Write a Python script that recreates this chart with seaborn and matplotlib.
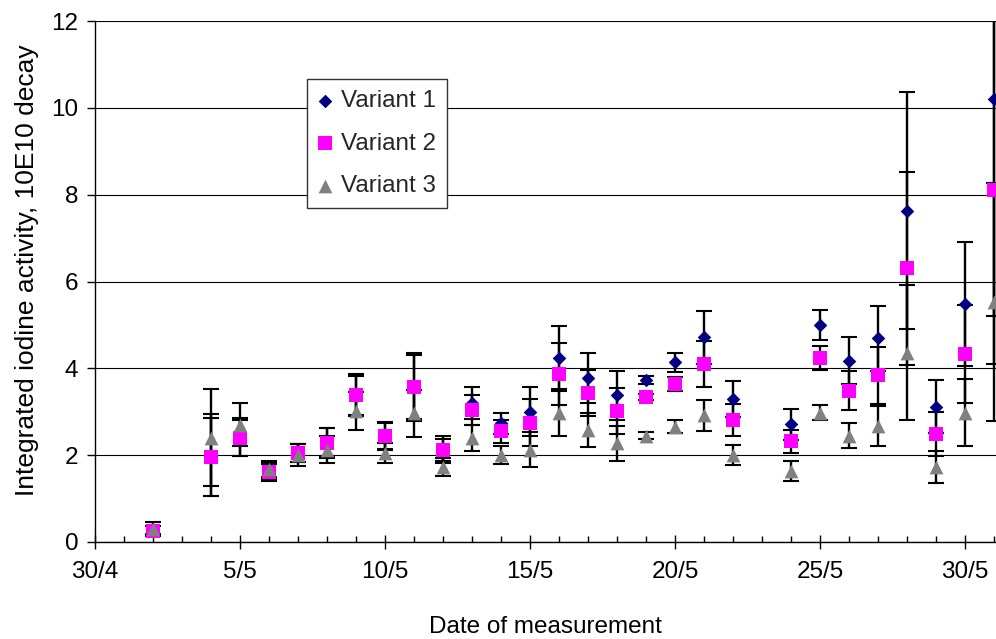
import matplotlib
matplotlib.use("Agg")
import matplotlib.pyplot as plt
import seaborn as sns
import pandas as pd
from matplotlib.ticker import MultipleLocator

# Day offsets counted from 30 April
days = [2, 4, 5, 6, 7, 8, 9, 10, 11, 12, 13, 14, 15, 16, 17, 18, 19, 20,
        21, 22, 24, 25, 26, 27, 28, 29, 30, 31]

v1 = [0.28, 2.00, 2.42, 1.62, 2.05, 2.30, 3.38, 2.45, 3.57, 2.12, 3.20, 2.73, 3.00, 4.23,
      3.78, 3.38, 3.73, 4.14, 4.72, 3.29, 2.71, 5.00, 4.18, 4.69, 7.63, 3.12, 5.49, 10.21]
e1 = [0.10, 0.95, 0.43, 0.22, 0.20, 0.33, 0.45, 0.30, 0.73, 0.26, 0.37, 0.25, 0.57, 0.75,
      0.58, 0.57, 0.10, 0.22, 0.61, 0.41, 0.35, 0.35, 0.55, 0.75, 2.73, 0.62, 1.43, 5.00]

v2 = [0.26, 1.96, 2.40, 1.62, 2.05, 2.28, 3.38, 2.44, 3.57, 2.13, 3.04, 2.55, 2.75, 3.87,
      3.43, 3.02, 3.34, 3.64, 4.10, 2.81, 2.32, 4.24, 3.48, 3.84, 6.30, 2.49, 4.33, 8.10]
e2 = [0.12, 0.90, 0.42, 0.17, 0.20, 0.35, 0.48, 0.32, 0.79, 0.32, 0.34, 0.27, 0.54, 0.71,
      0.53, 0.53, 0.06, 0.16, 0.53, 0.36, 0.26, 0.27, 0.45, 0.65, 2.23, 0.50, 1.12, 4.00]

v3 = [0.30, 2.40, 2.70, 1.68, 2.00, 2.13, 3.02, 2.05, 2.96, 1.73, 2.39, 2.00, 2.13, 2.98,
      2.58, 2.27, 2.45, 2.66, 2.92, 2.00, 1.64, 2.98, 2.45, 2.68, 4.36, 1.73, 2.98, 5.53]
e3 = [0.15, 1.12, 0.50, 0.18, 0.25, 0.31, 0.44, 0.22, 0.55, 0.20, 0.30, 0.21, 0.40, 0.55,
      0.40, 0.41, 0.08, 0.14, 0.36, 0.23, 0.23, 0.18, 0.29, 0.46, 1.55, 0.36, 0.77, 2.75]

series_names = ["Variant 1", "Variant 2", "Variant 3"]
date_ticks = [0, 5, 10, 15, 20, 25, 30]
date_labels = ["30/4", "5/5", "10/5", "15/5", "20/5", "25/5", "30/5"]
y_ticks = [0, 2, 4, 6, 8, 10, 12]

sns.set_theme(style="white")
plt.rcParams["font.family"] = ["Liberation Sans", "DejaVu Sans"]
FS = 17.5

fig = plt.figure(figsize=(9.96, 6.39), dpi=100)
ax = fig.add_axes([95 / 996, 97 / 639, 901 / 996, 521 / 639])

styles = [
    dict(marker="D", color="#000080", s=48),
    dict(marker="s", color="#FF00FF", s=92),
    dict(marker="^", color="#808080", s=98),
]
values = [v1, v2, v3]
errors = [e1, e2, e3]

# error bars underneath the markers
for v, e in zip(values, errors):
    ax.errorbar(days, v, yerr=e, fmt="none", ecolor="black", elinewidth=1.7,
                capsize=5.8, capthick=1.5, zorder=2)

for name, v, st in zip(series_names, values, styles):
    df = pd.DataFrame({"day": days, "value": v})
    sns.scatterplot(data=df, x="day", y="value", marker=st["marker"], color=st["color"],
                    s=st["s"], linewidth=0, label=name, ax=ax, zorder=3)

ax.set_xlim(0, 31.07)
ax.set_ylim(0, 12)
ax.set_yticks(y_ticks)
ax.set_yticklabels([str(t) for t in y_ticks])
ax.set_xticks(date_ticks)
ax.set_xticklabels(date_labels)
ax.xaxis.set_minor_locator(MultipleLocator(1))

ax.yaxis.grid(True, color="#000000", linewidth=0.8)
ax.xaxis.grid(False)
ax.set_axisbelow(True)

for side in ["top", "right"]:
    ax.spines[side].set_visible(False)
for side in ["left", "bottom"]:
    ax.spines[side].set_color("black")
    ax.spines[side].set_linewidth(1.0)

ax.tick_params(axis="x", which="major", direction="inout", length=9.5, width=1,
               color="black", labelsize=FS, labelcolor="black", pad=9, bottom=True)
ax.tick_params(axis="x", which="minor", direction="in", length=4.5, width=1,
               color="black", bottom=True)
ax.tick_params(axis="y", which="major", direction="out", length=6, width=1,
               color="black", labelsize=FS, labelcolor="black", pad=6, left=True)

ax.set_xlabel("Date of measurement", fontsize=FS, color="black", labelpad=24)
ax.set_ylabel("Integrated iodine activity, 10E10 decay", fontsize=19.0, color="black")
ax.yaxis.set_label_coords(-0.062, 0.522)

leg = ax.legend(loc="upper left", bbox_to_anchor=(0.235, 0.888), borderaxespad=0,
                fontsize=FS, frameon=True, fancybox=False, framealpha=1,
                edgecolor="#333333", handlelength=0.6, handletextpad=0.35,
                labelspacing=0.84, borderpad=0.45, scatterpoints=1)
leg.get_frame().set_linewidth(1.0)
leg.set_zorder(5)

fig.savefig("out.png", dpi=100)
